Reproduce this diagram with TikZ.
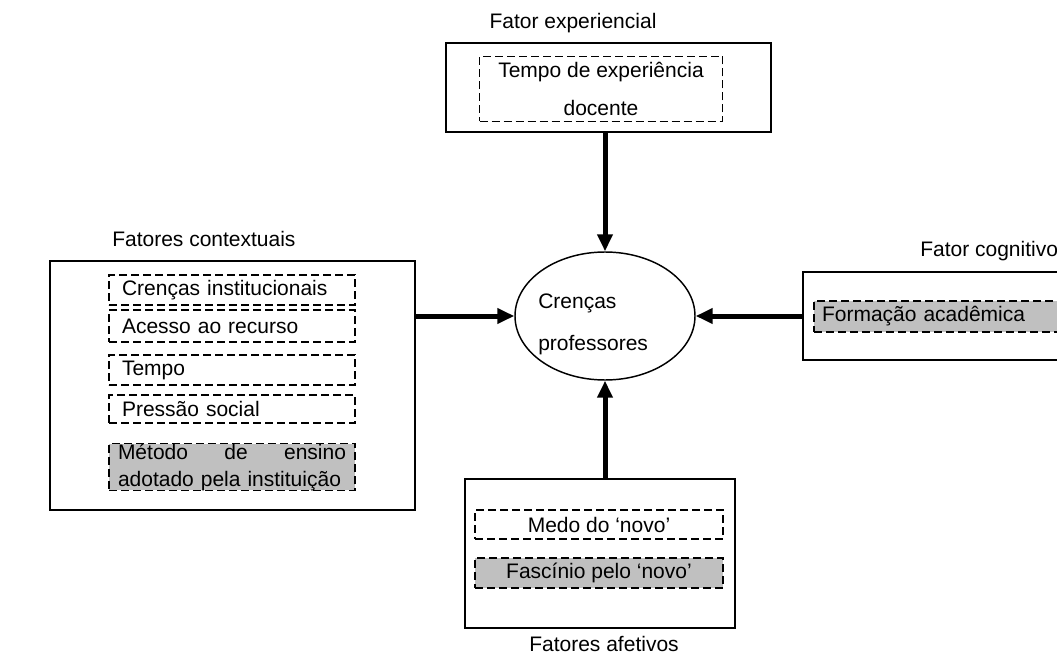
\documentclass[tikz,border=0pt]{standalone}
\usepackage{fontspec}
\setmainfont{Liberation Sans}
\usetikzlibrary{arrows.meta,shapes.geometric}
\definecolor{boxgray}{RGB}{192,192,192}

\begin{document}
\begin{tikzpicture}[x=0.75pt,y=-0.75pt,
  every node/.style={font=\fontsize{15.75pt}{20.25pt}\selectfont},
  factorbox/.style={draw, line width=1.1pt, rectangle, inner sep=0pt},
  itembox/.style={draw, line width=1pt, dash pattern=on 6pt off 3pt, rectangle, inner ysep=0pt},
  ctxitem/.style={itembox, minimum width=184.5pt, text width=165pt, align=left, inner xsep=9.75pt},
  shaded/.style={fill=boxgray},
  bigarrow/.style={line width=3.75pt, -{Triangle[length=12.75pt,width=11.25pt]}}
]
\useasboundingbox (0,0) rectangle (1057,656);
\clip (0,0) rectangle (1057,656);

% Titles
\node[anchor=base] (titexp) at (573,29) {Fator experiencial};
\node[anchor=base west, inner sep=0pt] (titctx) at (112,247) {Fatores contextuais};
\node[anchor=base west, inner sep=0pt] (titcog) at (920,257) {Fator cognitivo};
\node[anchor=base] (titafe) at (604,651) {Fatores afetivos};

% Factor boxes
\node[factorbox, minimum width=243.75pt, minimum height=66.75pt] (expbox) at (608.5,87.5) {};
\node[factorbox, minimum width=273.75pt, minimum height=186.75pt] (ctxbox) at (232.5,385.5) {};
\node[factorbox, minimum width=215.25pt, minimum height=66pt] (cogbox) at (946.5,316) {};
\node[factorbox, minimum width=202.5pt, minimum height=111.75pt] (afebox) at (600,553.5) {};

% Items
\node[itembox, minimum width=182.25pt, minimum height=48.75pt, align=center,
  font=\fontsize{15.75pt}{28.5pt}\selectfont] (tempoexp) at (601,89) {Tempo de experiência\\docente};

\node[ctxitem, minimum height=22.5pt] (crencinst) at (232,290) {Crenças institucionais};
\node[ctxitem, minimum height=24pt] (acesso) at (232,326) {Acesso ao recurso};
\node[ctxitem, minimum height=22.5pt] (tempo) at (232,370) {Tempo};
\node[ctxitem, minimum height=21pt] (pressao) at (232,409) {Pressão social};
\node[itembox, shaded, minimum width=184.5pt, text width=171pt, inner xsep=6.75pt, align=left,
  minimum height=34.5pt] (metodo) at (232,467) {Método\hfill de\hfill ensino\\adotado pela instituição};

\node[itembox, shaded, minimum width=199.5pt, text width=187.5pt, inner xsep=6pt, align=left,
  minimum height=23.25pt] (formacao) at (947,316.5) {Formação acadêmica};

\node[itembox, minimum width=186pt, minimum height=21.75pt] (medo) at (599,524.5) {Medo do ‘novo’};
\node[itembox, shaded, minimum width=186pt, minimum height=22.5pt] (fascinio) at (599,573) {Fascínio pelo ‘novo’};

% Centre
\node[ellipse, draw, line width=1.1pt, minimum width=135pt, minimum height=96pt, inner sep=0pt] (crencas) at (605,316) {};
\node[anchor=base west, inner sep=0pt, align=left, font=\fontsize{15.75pt}{31.5pt}\selectfont]
  (crencastxt) at (538,350) {Crenças\\professores};

% Arrows
\draw[bigarrow] (crencas |- expbox.south) -- (crencas.north);
\draw[bigarrow] (ctxbox.east |- crencas.west) -- (crencas.west);
\draw[bigarrow] (cogbox.west |- crencas.east) -- (crencas.east);
\draw[bigarrow] (crencas |- afebox.north) -- (crencas.south);
\end{tikzpicture}
\end{document}
